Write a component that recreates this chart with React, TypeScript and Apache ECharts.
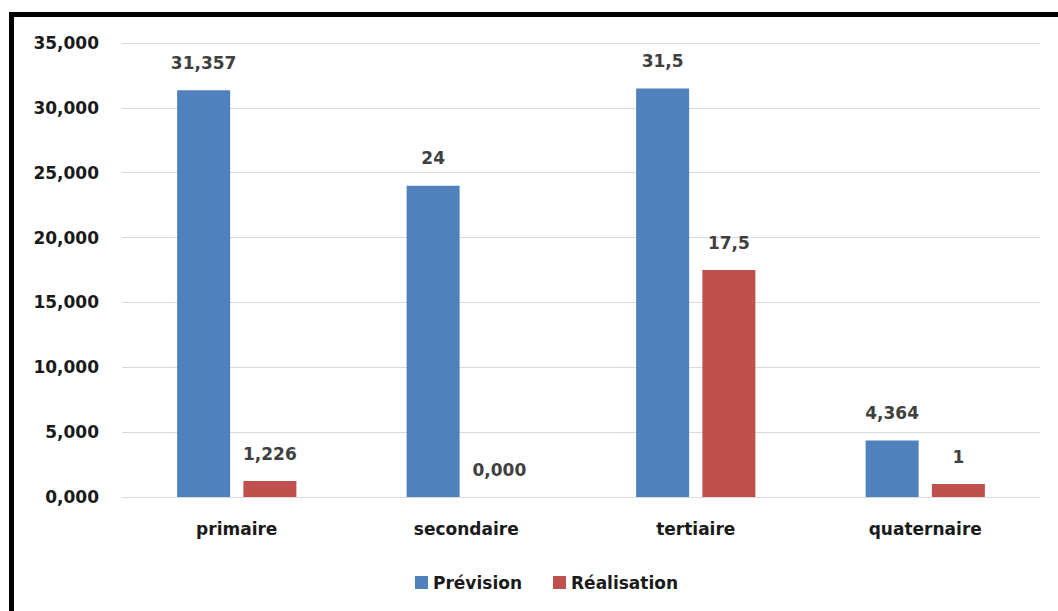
import React, { useEffect, useRef } from "react";
import * as echarts from "echarts";

const categories = ["primaire", "secondaire", "tertiaire", "quaternaire"];
const previsionValues = [31.357, 24, 31.5, 4.364];
const realisationValues = [1.226, 0, 17.5, 1];
const previsionLabels = ["31,357", "24", "31,5", "4,364"];
const realisationLabels = ["1,226", "0,000", "17,5", "1"];
const seriesNames = ["Prévision", "Réalisation"];

const FONT = "DejaVu Sans";

export default function App() {
  const ref = useRef<HTMLDivElement>(null);
  useEffect(() => {
    document.body.style.margin = "0";
    const chart = echarts.init(ref.current!, null, { renderer: "svg" });
    const labelStyle = {
      show: true,
      position: "top" as const,
      distance: 19,
      color: "#404040",
      fontFamily: FONT,
      fontWeight: "bold" as const,
      fontSize: 17,
    };
    chart.setOption({
      animation: false,
      backgroundColor: "#ffffff",
      graphic: [
        {
          type: "rect",
          shape: { x: 11.5, y: 14.5, width: 1200, height: 800 },
          style: { fill: "none", stroke: "#000000", lineWidth: 5 },
          z: 100,
        },
      ],
      grid: { left: 122, right: 18, top: 43, bottom: 114, containLabel: false },
      legend: {
        left: 410,
        top: 569,
        itemWidth: 13,
        itemHeight: 13,
        itemGap: 31,
        icon: "rect",
        textStyle: { fontFamily: FONT, fontWeight: "bold", fontSize: 17, color: "#1a1a1a" },
        data: seriesNames,
      },
      xAxis: {
        type: "category",
        data: categories,
        axisLine: { lineStyle: { color: "#d9d9d9", width: 1 } },
        axisTick: { show: false },
        axisLabel: { margin: 23, fontFamily: FONT, fontWeight: "bold", fontSize: 17, color: "#1a1a1a" },
      },
      yAxis: {
        type: "value",
        min: 0,
        max: 35,
        interval: 5,
        axisLine: { show: false },
        axisTick: { show: false },
        splitLine: { lineStyle: { color: "#d9d9d9", width: 1 } },
        axisLabel: {
          margin: 23,
          fontFamily: FONT,
          fontWeight: "bold",
          fontSize: 17,
          color: "#1a1a1a",
          formatter: (v: number) => v.toFixed(3).replace(".", ","),
        },
      },
      series: [
        {
          name: seriesNames[0],
          type: "bar",
          data: previsionValues,
          barWidth: 53,
          barGap: "25%",
          itemStyle: { color: "#4f81bd" },
          label: { ...labelStyle, formatter: (p: any) => previsionLabels[p.dataIndex] },
        },
        {
          name: seriesNames[1],
          type: "bar",
          data: realisationValues,
          barWidth: 53,
          barGap: "25%",
          itemStyle: { color: "#c0504d" },
          label: { ...labelStyle, formatter: (p: any) => realisationLabels[p.dataIndex] },
        },
      ],
    });
    return () => chart.dispose();
  }, []);
  return <div ref={ref} style={{ position: "absolute", left: 0, top: 0, width: 1058, height: 611 }} />;
}
